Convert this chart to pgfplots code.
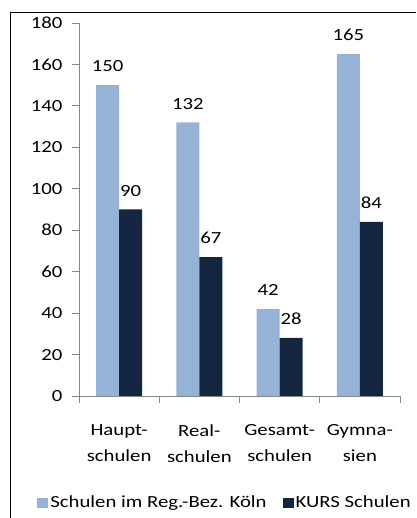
\documentclass[border=0pt]{standalone}
\usepackage{fontspec}
\setmainfont{Carlito}[FakeStretch=1.22]
\usepackage{pgfplots}
\pgfplotsset{compat=1.18}
\definecolor{lightb}{HTML}{95B3D7}
\definecolor{darkb}{HTML}{14263F}
\definecolor{axgray}{HTML}{868686}
\begin{document}
\begin{tikzpicture}[x=1pt,y=1pt]
\useasboundingbox (0,0) rectangle (416,518);
\draw[black, line width=0.9pt] (10,0) -- (10,506) -- (416,506);
\begin{axis}[
  at={(79pt,122pt)}, anchor=south west,
  scale only axis, width=321pt, height=373pt,
  xmin=-0.5, xmax=3.5, ymin=0, ymax=180,
  ybar=0pt, bar width=23pt,
  axis x line*=bottom, axis y line*=left,
  axis line style={axgray, line width=0.8pt},
  every tick/.style={axgray, line width=0.8pt},
  tick align=outside,
  ytick={0,20,...,180},
  major tick length=7pt,
  xtick={0,1,2,3},
  xticklabels={Haupt-\\schulen, Real-\\schulen, Gesamt-\\schulen, Gymna-\\sien},
  major x tick style={draw=none},
  minor xtick={-0.5,0.5,1.5,2.5,3.5},
  minor tick length=7pt,
  xticklabel style={align=center, font=\fontsize{17}{26}\selectfont, yshift=-18pt},
  yticklabel style={font=\fontsize{17}{20}\selectfont, xshift=-6pt},
  /pgf/number format/assume math mode=true,
  nodes near coords,
  every node near coord/.append style={font=\fontsize{17}{20}\selectfont, black, anchor=south, inner sep=0pt, yshift=13pt},
  legend style={at={(0.455,-0.286)}, anchor=center, draw=none, fill=none,
    font=\fontsize{17}{20}\selectfont, legend columns=2,
    /tikz/every even column/.append style={column sep=14pt}},
  legend image code/.code={\fill[#1] (0pt,-5pt) rectangle (11pt,5pt);},
]
\addplot[fill=lightb, draw=none] coordinates {(0,150) (1,132) (2,42) (3,165)};
\addplot[fill=darkb, draw=none] coordinates {(0,90) (1,67) (2,28) (3,84)};
\legend{Schulen im Reg.-Bez. Köln, KURS Schulen}
\end{axis}
\end{tikzpicture}
\end{document}
